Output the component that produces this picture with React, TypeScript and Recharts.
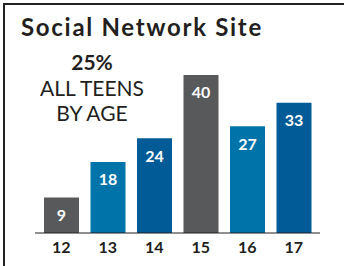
import React from 'react';
import { BarChart, Bar, XAxis, YAxis, Cell, LabelList } from 'recharts';

const ages = ['12', '13', '14', '15', '16', '17'];
const percents = [9, 18, 24, 40, 27, 33];
const barColors = ['#58595b', '#0073a8', '#005b96', '#58595b', '#0073a8', '#005b96'];

const title = 'Social Network Site';
const noteLines = ['25%', 'ALL TEENS', 'BY AGE'];

const data = ages.map((age, i) => ({ age, value: percents[i] }));

const font = 'Lato, "Open Sans", sans-serif';

export default function App() {
    return (
        <div style={{ position: 'absolute', left: 0, top: 0, width: 344, height: 266, background: '#fff', fontFamily: font }}>
            {/* frame: only top and left edges visible in the crop */}
            <div style={{ position: 'absolute', left: 3, top: 3, width: 341, height: 263, borderTop: '2px solid #222', borderLeft: '2px solid #222', boxSizing: 'border-box' }} />

            <div style={{ position: 'absolute', left: 21, top: 12, fontSize: 24, fontWeight: 700, letterSpacing: 1.7, color: '#231f20', whiteSpace: 'nowrap', lineHeight: '30px' }}>
                {title}
            </div>

            <div style={{ position: 'absolute', left: 32, top: 49, width: 120, textAlign: 'center', color: '#231f20', fontSize: 21, lineHeight: '25.5px', whiteSpace: 'nowrap' }}>
                <div style={{ fontWeight: 700 }}>{noteLines[0]}</div>
                <div>{noteLines[1]}</div>
                <div>{noteLines[2]}</div>
            </div>

            <div style={{ position: 'absolute', left: 0, top: 0 }}>
                <BarChart
                    width={344}
                    height={266}
                    data={data}
                    margin={{ top: 75, right: 24, bottom: 3, left: 35 }}
                    barCategoryGap={6}
                >
                    <XAxis
                        dataKey="age"
                        height={30}
                        padding={{ left: 3, right: 3 }}
                        tickLine={false}
                        tickSize={6}
                        tickMargin={3}
                        axisLine={{ stroke: '#231f20', strokeWidth: 1 }}
                        tick={{ fill: '#231f20', fontSize: 16, fontWeight: 700, fontFamily: font }}
                        interval={0}
                    />
                    <YAxis hide width={0} domain={[0, 40]} />
                    <Bar dataKey="value" isAnimationActive={false}>
                        {data.map((d, i) => (
                            <Cell key={d.age} fill={barColors[i]} />
                        ))}
                        <LabelList
                            dataKey="value"
                            position="insideTop"
                            offset={12}
                            fill="#fff"
                            fontSize={16}
                            fontWeight={700}
                            fontFamily={font}
                        />
                    </Bar>
                </BarChart>
            </div>
        </div>
    );
}
